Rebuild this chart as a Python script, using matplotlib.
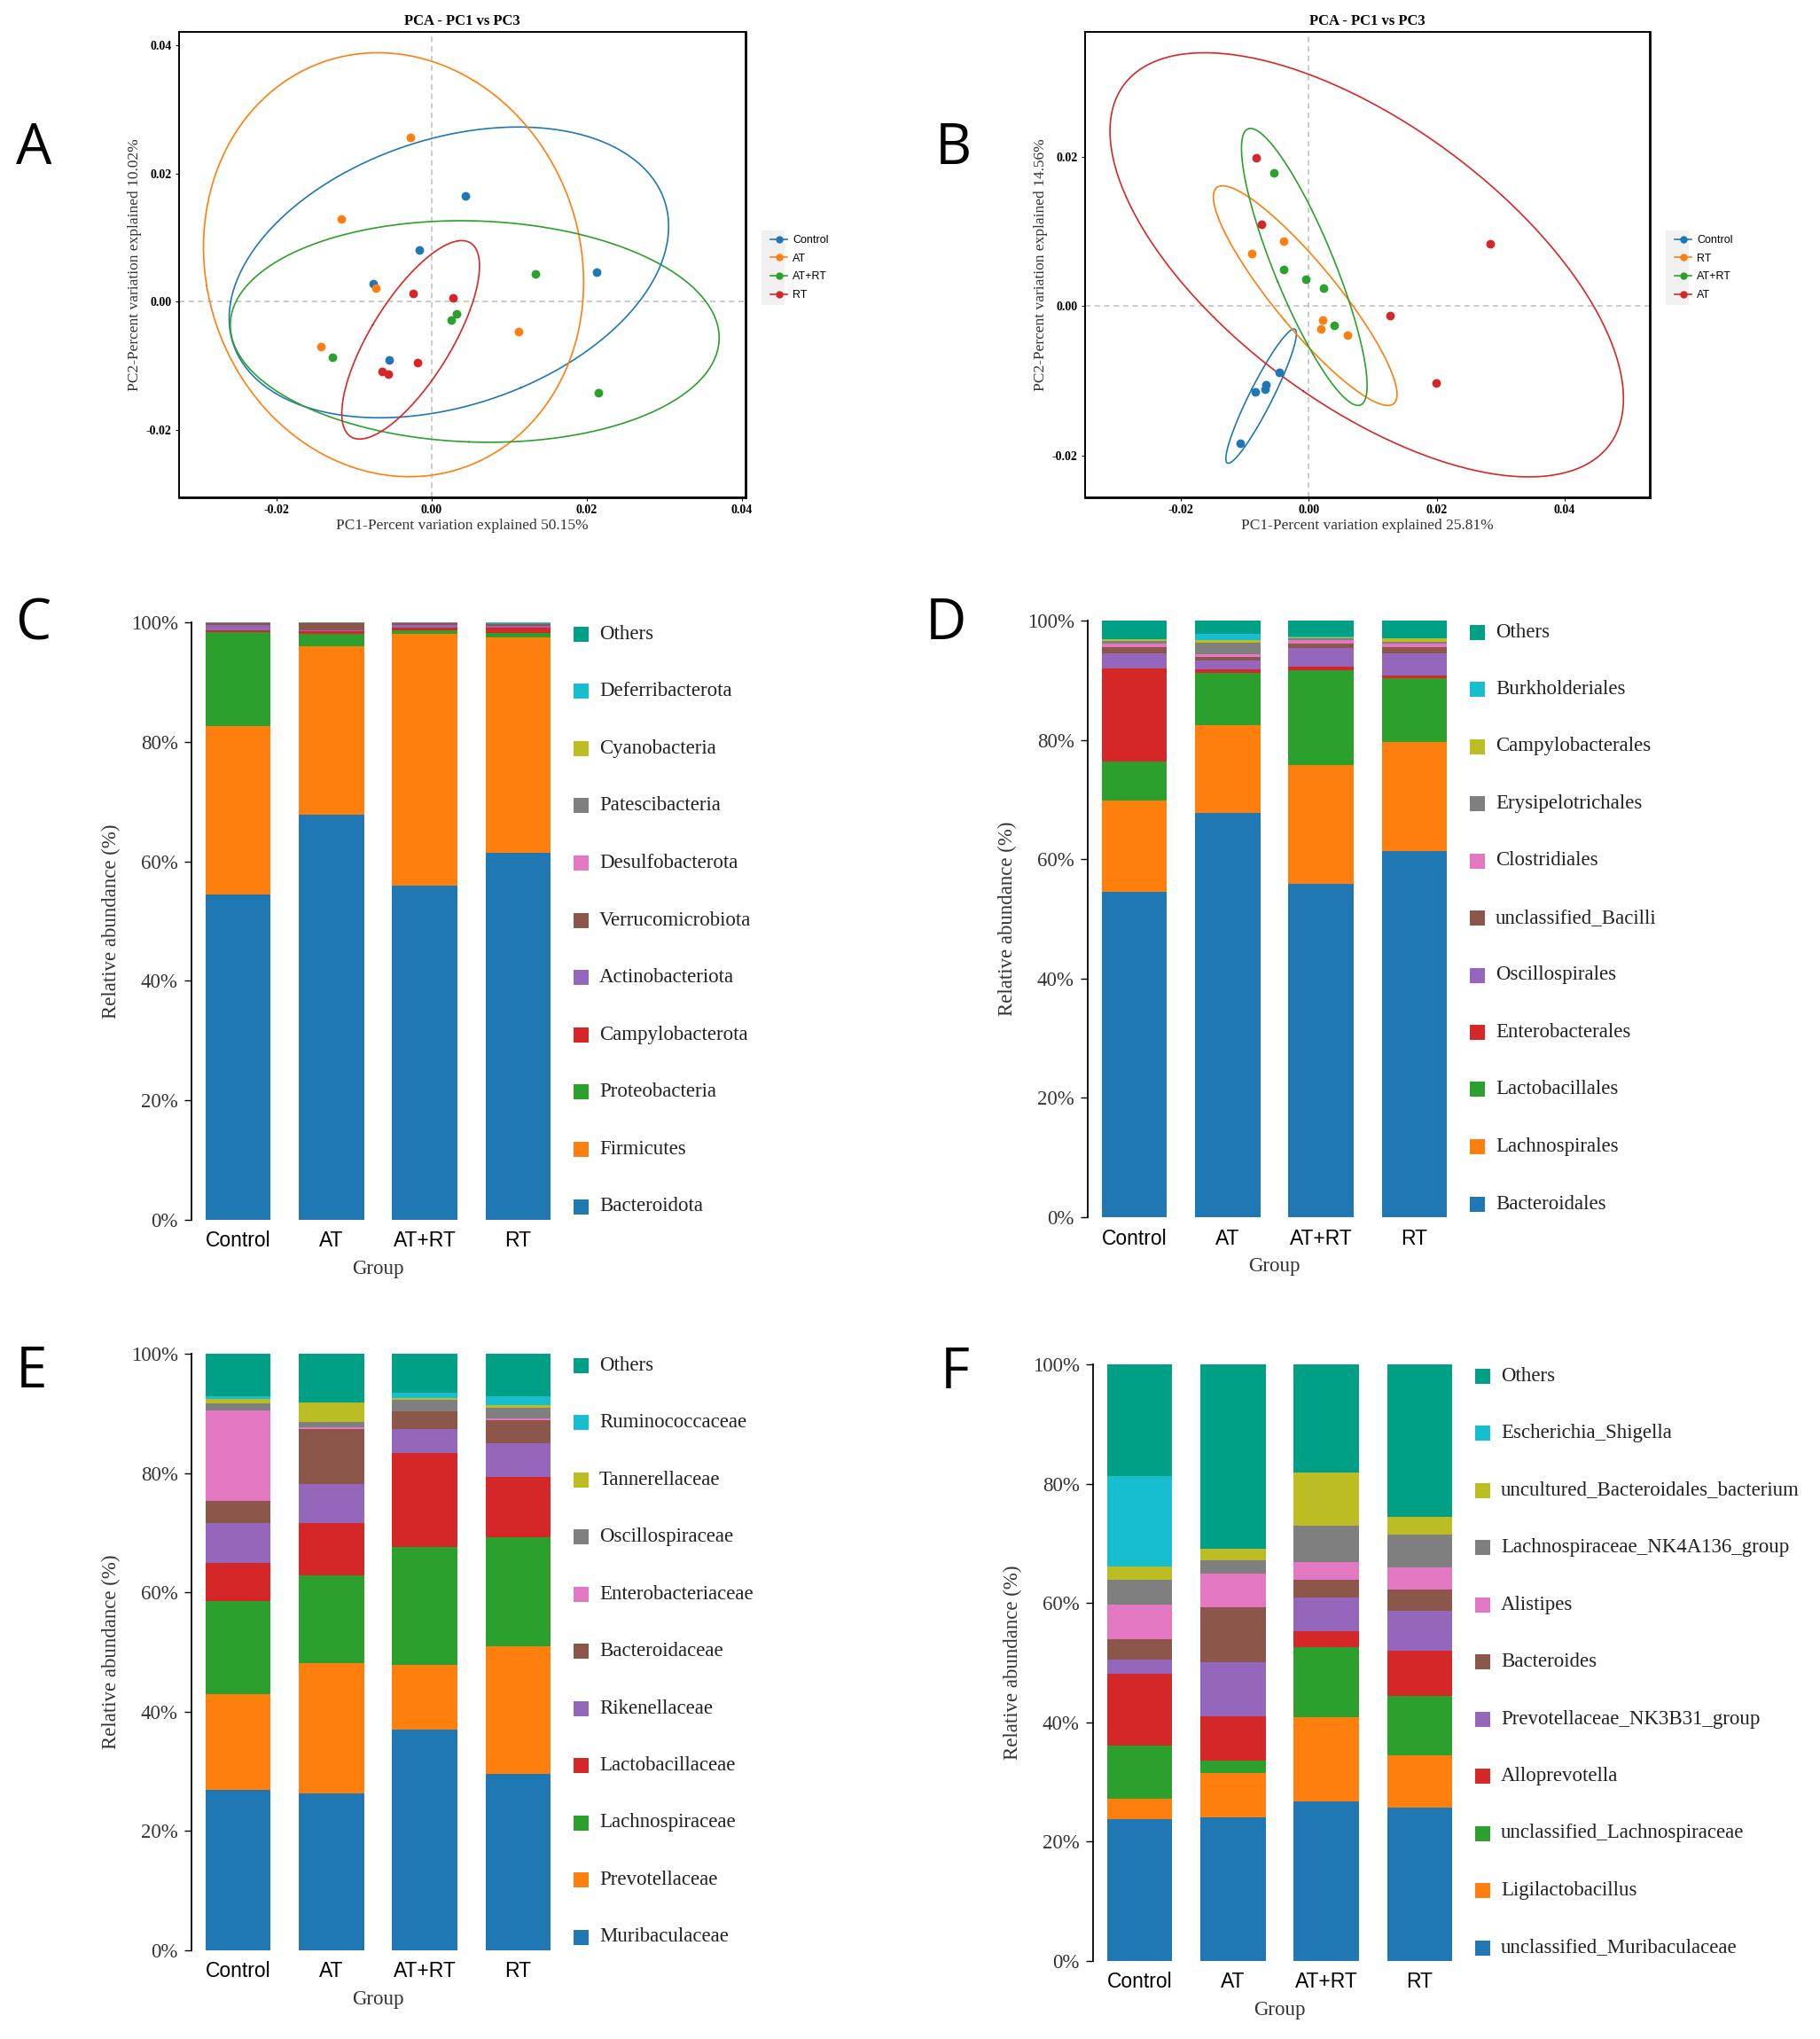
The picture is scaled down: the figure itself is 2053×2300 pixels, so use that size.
import numpy as np
import matplotlib
matplotlib.use("Agg")
import matplotlib.pyplot as plt
from matplotlib.lines import Line2D
from matplotlib.patches import Rectangle

# =====================================
# SETTINGS
# =====================================

W, H = 2053, 2300
plt.rcParams['axes.unicode_minus'] = False
SERIF = "Liberation Serif"
SANS = "Liberation Sans"

PCA_COLORS = ["#1f77b4", "#ff7f0e", "#2ca02c", "#d62728"]
BAR_COLORS = ["#1f77b4", "#ff7f0e", "#2ca02c", "#d62728", "#9467bd",
              "#8c564b", "#e377c2", "#7f7f7f", "#bcbd22", "#17becf", "#00a087"]

# =====================================
# DATA - PCA
# =====================================

pca_a_groups = ["Control", "AT", "AT+RT", "RT"]
pca_a_pc1 = [
    [0.00435, -0.00158, -0.0075, 0.0213, -0.00548],
    [-0.0027, -0.01163, -0.0072, -0.01426, 0.01118],
    [0.01336, 0.00315, 0.00255, -0.01276, 0.02146],
    [-0.0024, 0.0027, -0.0018, -0.00645, -0.00563],
]
pca_a_pc2 = [
    [0.0165, 0.00803, 0.00284, 0.00464, -0.00907],
    [0.0256, 0.0129, 0.00213, -0.0070, -0.0047],
    [0.00437, -0.00191, -0.00279, -0.00863, -0.0142],
    [0.00131, 0.0006, -0.0095, -0.0108, -0.01126],
]
pca_a_var = (50.15, 10.02)

pca_b_groups = ["Control", "RT", "AT+RT", "AT"]
pca_b_pc1 = [
    [-0.00464, -0.00673, -0.0069, -0.00836, -0.01073],
    [-0.0040, -0.00891, 0.00218, 0.00182, 0.0060],
    [-0.00545, -0.0040, -0.00045, 0.00227, 0.0040],
    [-0.00827, -0.00745, 0.02836, 0.01264, 0.01991],
]
pca_b_pc2 = [
    [-0.00886, -0.0105, -0.01107, -0.01144, -0.01838],
    [0.00872, 0.00708, -0.00192, -0.00305, -0.00385],
    [0.01782, 0.00492, 0.00361, 0.00239, -0.00253],
    [0.01988, 0.01093, 0.0083, -0.00122, -0.01027],
]
pca_b_var = (25.81, 14.56)

# =====================================
# DATA - RELATIVE ABUNDANCE (%)
# =====================================

groups = ["Control", "AT", "AT+RT", "RT"]

phylum_names = ["Bacteroidota", "Firmicutes", "Proteobacteria", "Campylobacterota",
                "Actinobacteriota", "Verrucomicrobiota", "Desulfobacterota",
                "Patescibacteria", "Cyanobacteria", "Deferribacterota", "Others"]
phylum_values = [
    [54.5, 67.8, 56.0, 61.4],
    [28.2, 28.2, 42.0, 36.1],
    [15.7, 2.0, 0.65, 0.7],
    [0.3, 0.5, 0.4, 0.9],
    [0.8, 0.1, 0.45, 0.3],
    [0.3, 1.2, 0.3, 0.3],
    [0.1, 0.05, 0.1, 0.05],
    [0.05, 0.1, 0.05, 0.05],
    [0.05, 0.05, 0.03, 0.05],
    [0.0, 0.0, 0.02, 0.15],
    [0.2, 0.0, 0.0, 0.0],
]

order_names = ["Bacteroidales", "Lachnospirales", "Lactobacillales", "Enterobacterales",
               "Oscillospirales", "unclassified_Bacilli", "Clostridiales",
               "Erysipelotrichales", "Campylobacterales", "Burkholderiales", "Others"]
order_values = [
    [54.5, 67.8, 55.9, 61.4],
    [15.4, 14.7, 19.9, 18.2],
    [6.5, 8.8, 15.9, 10.7],
    [15.6, 0.6, 0.5, 0.5],
    [2.5, 1.4, 3.2, 3.7],
    [1.1, 0.65, 0.8, 1.0],
    [0.6, 0.35, 0.5, 0.7],
    [0.4, 2.0, 0.35, 0.3],
    [0.3, 0.5, 0.15, 0.5],
    [0.0, 1.0, 0.1, 0.0],
    [3.1, 2.2, 2.7, 3.0],
]

family_names = ["Muribaculaceae", "Prevotellaceae", "Lachnospiraceae", "Lactobacillaceae",
                "Rikenellaceae", "Bacteroidaceae", "Enterobacteriaceae",
                "Oscillospiraceae", "Tannerellaceae", "Ruminococcaceae", "Others"]
family_values = [
    [26.9, 26.3, 37.0, 29.6],
    [16.0, 21.8, 10.8, 21.3],
    [15.7, 14.8, 19.8, 18.4],
    [6.4, 8.7, 15.8, 10.1],
    [6.6, 6.6, 3.9, 5.6],
    [3.7, 9.2, 3.0, 3.9],
    [15.2, 0.3, 0.1, 0.3],
    [1.2, 0.8, 1.9, 1.8],
    [0.7, 3.3, 0.3, 0.4],
    [0.5, 0.1, 0.8, 1.5],
    [7.1, 8.1, 6.6, 7.1],
]

genus_names = ["unclassified_Muribaculaceae", "Ligilactobacillus",
               "unclassified_Lachnospiraceae", "Alloprevotella",
               "Prevotellaceae_NK3B31_group", "Bacteroides", "Alistipes",
               "Lachnospiraceae_NK4A136_group", "uncultured_Bacteroidales_bacterium",
               "Escherichia_Shigella", "Others"]
genus_values = [
    [23.8, 24.0, 26.8, 25.7],
    [3.4, 7.5, 14.1, 8.7],
    [8.9, 2.1, 11.7, 10.0],
    [12.1, 7.4, 2.7, 7.6],
    [2.3, 9.1, 5.6, 6.7],
    [3.4, 9.2, 3.0, 3.6],
    [5.9, 5.7, 3.0, 3.7],
    [4.1, 2.1, 6.1, 5.4],
    [2.2, 2.0, 8.8, 3.0],
    [15.2, 0.0, 0.0, 0.0],
    [18.7, 30.9, 18.2, 25.6],
]

# =====================================
# HELPERS
# =====================================

fig = plt.figure(figsize=(W / 100, H / 100), dpi=100)


def px_axes(left, top, right, bottom):
    return fig.add_axes([left / W, 1 - bottom / H, (right - left) / W, (bottom - top) / H])


def panel_letter(letter, x, y):
    fig.text(x / W, 1 - y / H, letter, fontsize=46, family="Open Sans",
             ha="center", va="center")


def conf_ellipse(x, y, level=0.95, n=300):
    x = np.asarray(x)
    y = np.asarray(y)
    k = np.sqrt(-2 * np.log(1 - level))
    vals, vecs = np.linalg.eigh(np.cov(x, y))
    t = np.linspace(0, 2 * np.pi, n)
    circ = np.vstack([np.cos(t), np.sin(t)])
    pts = vecs @ (np.sqrt(vals)[:, None] * circ) * k
    return pts[0] + x.mean(), pts[1] + y.mean()


def draw_pca(ax, labels, pc1, pc2, var, xlim, ylim, xticks, yticks):
    ax.axhline(0, color="#bdbdbd", lw=1.1, ls=(0, (4, 3)), zorder=0)
    ax.axvline(0, color="#bdbdbd", lw=1.1, ls=(0, (4, 3)), zorder=0)
    for lab, xs, ys, col in zip(labels, pc1, pc2, PCA_COLORS):
        ex, ey = conf_ellipse(xs, ys)
        ax.plot(ex, ey, color=col, lw=1.2)
        ax.scatter(xs, ys, s=50, color=col, zorder=3, linewidths=0)
    ax.set_xlim(*xlim)
    ax.set_ylim(*ylim)
    ax.set_xticks(xticks)
    ax.set_yticks(yticks)
    ax.xaxis.set_major_formatter(matplotlib.ticker.FormatStrFormatter("%.2f"))
    ax.yaxis.set_major_formatter(matplotlib.ticker.FormatStrFormatter("%.2f"))
    ax.tick_params(length=3, width=0.8, pad=3, labelsize=10)
    for lab in ax.get_xticklabels() + ax.get_yticklabels():
        lab.set_family(SERIF)
        lab.set_fontweight("bold")
    for side in ["left", "top"]:
        ax.spines[side].set_linewidth(1.4)
    for side in ["right", "bottom"]:
        ax.spines[side].set_linewidth(2.0)
    ax.set_xlabel("PC1-Percent variation explained %.2f%%" % var[0],
                  family=SERIF, fontsize=12.5, color="#333333")
    ax.set_ylabel("PC2-Percent variation explained %.2f%%" % var[1],
                  family=SERIF, fontsize=12.5, color="#333333")
    ax.xaxis.set_label_coords(0.5, -24 / 525)
    ax.yaxis.set_label_coords(-42 / 639, 0.5)
    ax.text(0.5, 1 + 12 / 525, "PCA - PC1 vs PC3", transform=ax.transAxes,
            ha="center", va="center", family=SERIF, fontweight="bold", fontsize=12)

    # grey key strip behind the legend markers
    ax.add_patch(Rectangle((1 + 18 / 639, (561 - 344) / 525), 26 / 639, 84 / 525,
                           transform=ax.transAxes, clip_on=False,
                           color="#f0f0f0", lw=0, zorder=0))
    handles = [Line2D([0], [0], color=c, marker="o", markersize=5, lw=1.2)
               for c in PCA_COLORS]
    ax.legend(handles, labels, loc="center left",
              bbox_to_anchor=(1 + 22 / 639, (561 - 302) / 525),
              frameon=False, borderpad=0, handlelength=1.5,
              handletextpad=0.5, labelspacing=0.7,
              prop={"family": SANS, "size": 9})


def draw_bars(ax, names, values):
    x = np.arange(len(groups))
    bottom = np.zeros(len(groups))
    for vals, col in zip(values, BAR_COLORS):
        vals = np.asarray(vals, dtype=float)
        ax.bar(x, vals, bottom=bottom, width=0.7, color=col, linewidth=0)
        bottom += vals
    ax.set_xlim(-0.5, 3.5)
    ax.set_ylim(0, 100)
    ax.set_xticks(x)
    ax.set_xticklabels(groups, family=SANS, fontsize=16.5)
    ax.set_yticks([0, 20, 40, 60, 80, 100])
    ax.set_yticklabels(["%d%%" % v for v in [0, 20, 40, 60, 80, 100]],
                       family=SERIF, fontsize=16.5, color="#333333")
    ax.tick_params(axis="x", length=0, pad=9)
    ax.tick_params(axis="y", length=6, width=1.0, pad=5)
    for side in ["top", "right", "bottom"]:
        ax.spines[side].set_visible(False)
    ax.spines["left"].set_linewidth(1.3)
    ax.set_ylabel("Relative abundance (%)", family=SERIF, fontsize=16.5, color="#333333")
    ax.set_xlabel("Group", family=SERIF, fontsize=16.5, color="#333333")
    ax.yaxis.set_label_coords(-80 / 421, 0.5)
    ax.xaxis.set_label_coords(0.5, -45 / 674)

    # legend, top entry = last taxon ("Others")
    bb = ax.get_position()
    right_px = bb.x1 * W
    top_px = (1 - bb.y1) * H
    height_px = bb.height * H
    pitch = (height_px - 28) / (len(names) - 1)
    for i, (name, col) in enumerate(zip(names[::-1], BAR_COLORS[::-1])):
        yc = top_px + 13 + i * pitch
        fig.patches.append(Rectangle(((right_px + 10) / W, 1 - (yc + 8.5) / H),
                                     17 / W, 17 / H, transform=fig.transFigure,
                                     figure=fig, color=col, lw=0))
        fig.text((right_px + 39) / W, 1 - yc / H, name, family=SERIF,
                 fontsize=16.5, va="center", ha="left", color="#222222")


# =====================================
# PCA PANELS
# =====================================

ax_a = px_axes(202, 36, 841, 561)
draw_pca(ax_a, pca_a_groups, pca_a_pc1, pca_a_pc2, pca_a_var,
         (-0.0326, 0.0405), (-0.0305, 0.0421),
         [-0.02, 0.0, 0.02, 0.04], [-0.02, 0.0, 0.02, 0.04])
panel_letter("A", 38, 168)

ax_b = px_axes(1224, 36, 1861, 561)
draw_pca(ax_b, pca_b_groups, pca_b_pc1, pca_b_pc2, pca_b_var,
         (-0.035, 0.0533), (-0.0256, 0.0367),
         [-0.02, 0.0, 0.02, 0.04], [-0.02, 0.0, 0.02])
panel_letter("B", 1075, 168)

# =====================================
# BAR PANELS
# =====================================

ax_c = px_axes(216, 702, 637, 1376)
draw_bars(ax_c, phylum_names, phylum_values)
panel_letter("C", 37, 704)

ax_d = px_axes(1227, 700, 1648, 1373)
draw_bars(ax_d, order_names, order_values)
panel_letter("D", 1067, 704)

ax_e = px_axes(216, 1527, 637, 2200)
draw_bars(ax_e, family_names, family_values)
panel_letter("E", 36, 1548)

ax_f = px_axes(1233, 1539, 1654, 2212)
draw_bars(ax_f, genus_names, genus_values)
panel_letter("F", 1077, 1549)

fig.savefig("out.png", dpi=100)
